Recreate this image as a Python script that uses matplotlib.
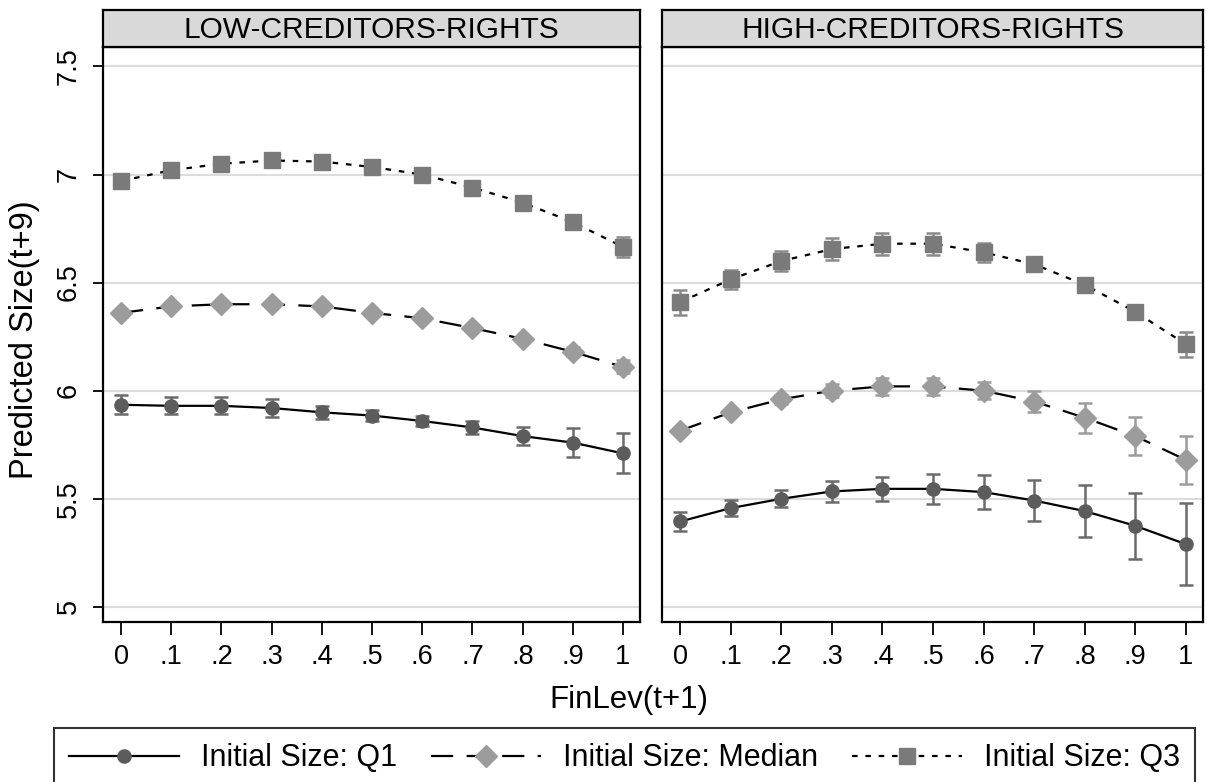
import matplotlib
matplotlib.use("Agg")
import matplotlib.pyplot as plt
from matplotlib.lines import Line2D

plt.rcParams['font.family'] = ['Liberation Sans', 'DejaVu Sans']

finlev = [0, .1, .2, .3, .4, .5, .6, .7, .8, .9, 1]
xtick_labels = ['0', '.1', '.2', '.3', '.4', '.5', '.6', '.7', '.8', '.9', '1']
panels = ['LOW-CREDITORS-RIGHTS', 'HIGH-CREDITORS-RIGHTS']

# predicted size and half-width of the confidence interval, per panel
low_q1 = [5.935, 5.93, 5.93, 5.92, 5.90, 5.885, 5.86, 5.83, 5.79, 5.76, 5.71]
low_q1_ci = [0.045, 0.04, 0.04, 0.04, 0.03, 0.025, 0.025, 0.03, 0.04, 0.067, 0.093]
low_med = [6.36, 6.39, 6.40, 6.40, 6.39, 6.36, 6.335, 6.29, 6.24, 6.18, 6.11]
low_med_ci = [0.01, 0.01, 0.01, 0.01, 0.01, 0.01, 0.01, 0.012, 0.015, 0.02, 0.03]
low_q3 = [6.97, 7.02, 7.05, 7.065, 7.06, 7.035, 7.0, 6.94, 6.87, 6.78, 6.665]
low_q3_ci = [0.01, 0.01, 0.01, 0.01, 0.01, 0.012, 0.015, 0.015, 0.015, 0.025, 0.048]

high_q1 = [5.395, 5.457, 5.50, 5.534, 5.546, 5.546, 5.531, 5.492, 5.443, 5.375, 5.29]
high_q1_ci = [0.044, 0.036, 0.04, 0.049, 0.057, 0.068, 0.079, 0.096, 0.122, 0.153, 0.19]
high_med = [5.815, 5.90, 5.96, 6.0, 6.02, 6.02, 6.0, 5.95, 5.875, 5.79, 5.68]
high_med_ci = [0.01, 0.015, 0.02, 0.03, 0.04, 0.04, 0.04, 0.05, 0.07, 0.088, 0.11]
high_q3 = [6.41, 6.515, 6.60, 6.655, 6.68, 6.68, 6.64, 6.585, 6.49, 6.365, 6.215]
high_q3_ci = [0.058, 0.045, 0.045, 0.05, 0.05, 0.05, 0.045, 0.025, 0.015, 0.02, 0.058]

series_labels = ['Initial Size: Q1', 'Initial Size: Median', 'Initial Size: Q3']
styles = [
    dict(marker='o', ms=9.5, mfc='#5c5c5c', ec='#6a6a6a', dashes=None),
    dict(marker='D', ms=11, mfc='#9c9c9c', ec='#9c9c9c', dashes=(10, 6)),
    dict(marker='s', ms=11, mfc='#7a7a7a', ec='#8a8a8a', dashes=(2.5, 3.5)),
]

data = [
    [(low_q1, low_q1_ci), (low_med, low_med_ci), (low_q3, low_q3_ci)],
    [(high_q1, high_q1_ci), (high_med, high_med_ci), (high_q3, high_q3_ci)],
]

fig = plt.figure(figsize=(12.07, 7.82), dpi=100)
W, H = 1207, 782
ax_lefts = [103, 662]
ax_rights = [640, 1203]
ax_top, ax_bottom = 47, 622
strip_top = 10

for i, name in enumerate(panels):
    x0 = ax_lefts[i] / W
    w = (ax_rights[i] - ax_lefts[i]) / W
    ax = fig.add_axes([x0, 1 - ax_bottom / H, w, (ax_bottom - ax_top) / H])
    for (vals, ci), st in zip(data[i], styles):
        ax.errorbar(finlev, vals, yerr=ci, fmt='none', ecolor=st['ec'],
                    elinewidth=1.8, capsize=5, capthick=1.8, zorder=2)
        line, = ax.plot(finlev, vals, color='black', lw=1.6, zorder=3,
                        marker=st['marker'], ms=st['ms'], mfc=st['mfc'],
                        mec=st['mfc'])
        if st['dashes']:
            line.set_dashes(st['dashes'])
    ax.set_xlim(-0.036, 1.034)
    ax.set_ylim(4.93, 7.59)
    ax.set_xticks(finlev)
    ax.set_xticklabels(xtick_labels, fontsize=19.5)
    ax.set_yticks([5, 5.5, 6, 6.5, 7, 7.5])
    ax.grid(axis='y', color='#dcdcdc', lw=1.5)
    ax.set_axisbelow(True)
    ax.tick_params(axis='x', length=9.5, width=1.3, pad=6)
    for sp in ax.spines.values():
        sp.set_linewidth(1.6)
    if i == 0:
        ax.set_yticklabels(['5', '5.5', '6', '6.5', '7', '7.5'], fontsize=19.5,
                           rotation=90, va='center')
        ax.tick_params(axis='y', length=7.5, width=1.3, pad=8)
    else:
        ax.tick_params(axis='y', length=0, labelleft=False)

    # panel header strip
    sx = fig.add_axes([x0, 1 - ax_top / H, w, (ax_top - strip_top) / H])
    sx.set_facecolor('#d9d9d9')
    sx.set_xticks([])
    sx.set_yticks([])
    for sp in sx.spines.values():
        sp.set_linewidth(1.6)
    sx.text(0.5, 0.47, name, ha='center', va='center', fontsize=21.5,
            transform=sx.transAxes)

fig.text(25 / W, 1 - 340 / H, 'Predicted Size(t+9)', rotation=90,
         ha='center', va='center', fontsize=23.5)
fig.text(629 / W, 1 - 700 / H, 'FinLev(t+1)', ha='center',
         va='center', fontsize=22.5)

handles = []
for st, lab in zip(styles, series_labels):
    h = Line2D([], [], color='black', lw=1.6, marker=st['marker'],
               ms=st['ms'], mfc=st['mfc'], mec=st['mfc'], label=lab)
    if st['dashes']:
        h.set_dashes(st['dashes'])
    handles.append(h)

leg = fig.legend(handles=handles, loc='upper left', ncol=3,
                 bbox_to_anchor=(54 / W, 1 - 728 / H), fontsize=22,
                 frameon=True, fancybox=False, edgecolor='black',
                 handlelength=3.6, handletextpad=0.72, columnspacing=1.1,
                 numpoints=1, borderpad=0.5, borderaxespad=0)
leg.get_frame().set_linewidth(1.5)

fig.savefig('out.png', dpi=100)
